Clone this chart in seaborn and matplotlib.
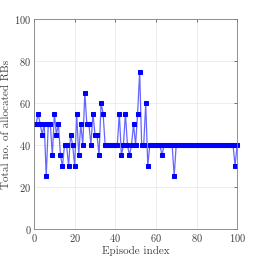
import numpy as np
import pandas as pd
import matplotlib
matplotlib.use("Agg")
import matplotlib.pyplot as plt
import seaborn as sns

episodes = list(range(1, 101))
rbs_first = [50, 55, 50, 45, 50, 25, 50, 50, 35, 55,
             45, 50, 35, 30, 40, 40, 30, 45, 40, 30,
             55, 35, 50, 40, 65, 50, 50, 40, 55, 45,
             45, 35, 60, 55, 40, 40, 40, 40, 40, 40,
             40, 55, 35, 40, 55, 40, 35, 40, 50, 40,
             55, 75, 40, 40, 60, 30]
rbs_rest = [40] * 6 + [35] + [40] * 5 + [25] + [40] * 29 + [30, 40]
rbs = rbs_first + rbs_rest

df = pd.DataFrame({"episode": episodes, "rbs": rbs})

sns.set_style("whitegrid")
plt.rcParams['font.family'] = 'serif'
plt.rcParams['font.serif'] = ['cmr10']
plt.rcParams['mathtext.fontset'] = 'cm'
plt.rcParams['axes.formatter.use_mathtext'] = True

fig = plt.figure(figsize=(2.62, 2.62), dpi=100)
ax = fig.add_axes([0.13, 0.127, 0.775, 0.799])

sns.lineplot(data=df, x="episode", y="rbs", ax=ax, color=(0.4, 0.4, 1.0),
             linewidth=0.9, marker="s", markersize=3.5,
             markerfacecolor="blue", markeredgecolor="blue", clip_on=False)

ax.set_xlim(0, 100)
ax.set_ylim(0, 100)
ax.set_xticks(range(0, 101, 20))
ax.set_yticks(range(0, 101, 20))
ax.set_xlabel("Episode index", fontsize=8, color="#404040", labelpad=2)
ax.set_ylabel("Total no. of allocated RBs", fontsize=8, color="#404040", labelpad=2)
ax.tick_params(direction="in", length=2.5, width=0.5, labelsize=7.5,
               colors="#404040", pad=2, top=True, right=True)
ax.grid(True, color="#e6e6e6", linewidth=0.5)
for s in ax.spines.values():
    s.set_color("#808080")
    s.set_linewidth(0.6)

fig.savefig("out.png", dpi=100)
